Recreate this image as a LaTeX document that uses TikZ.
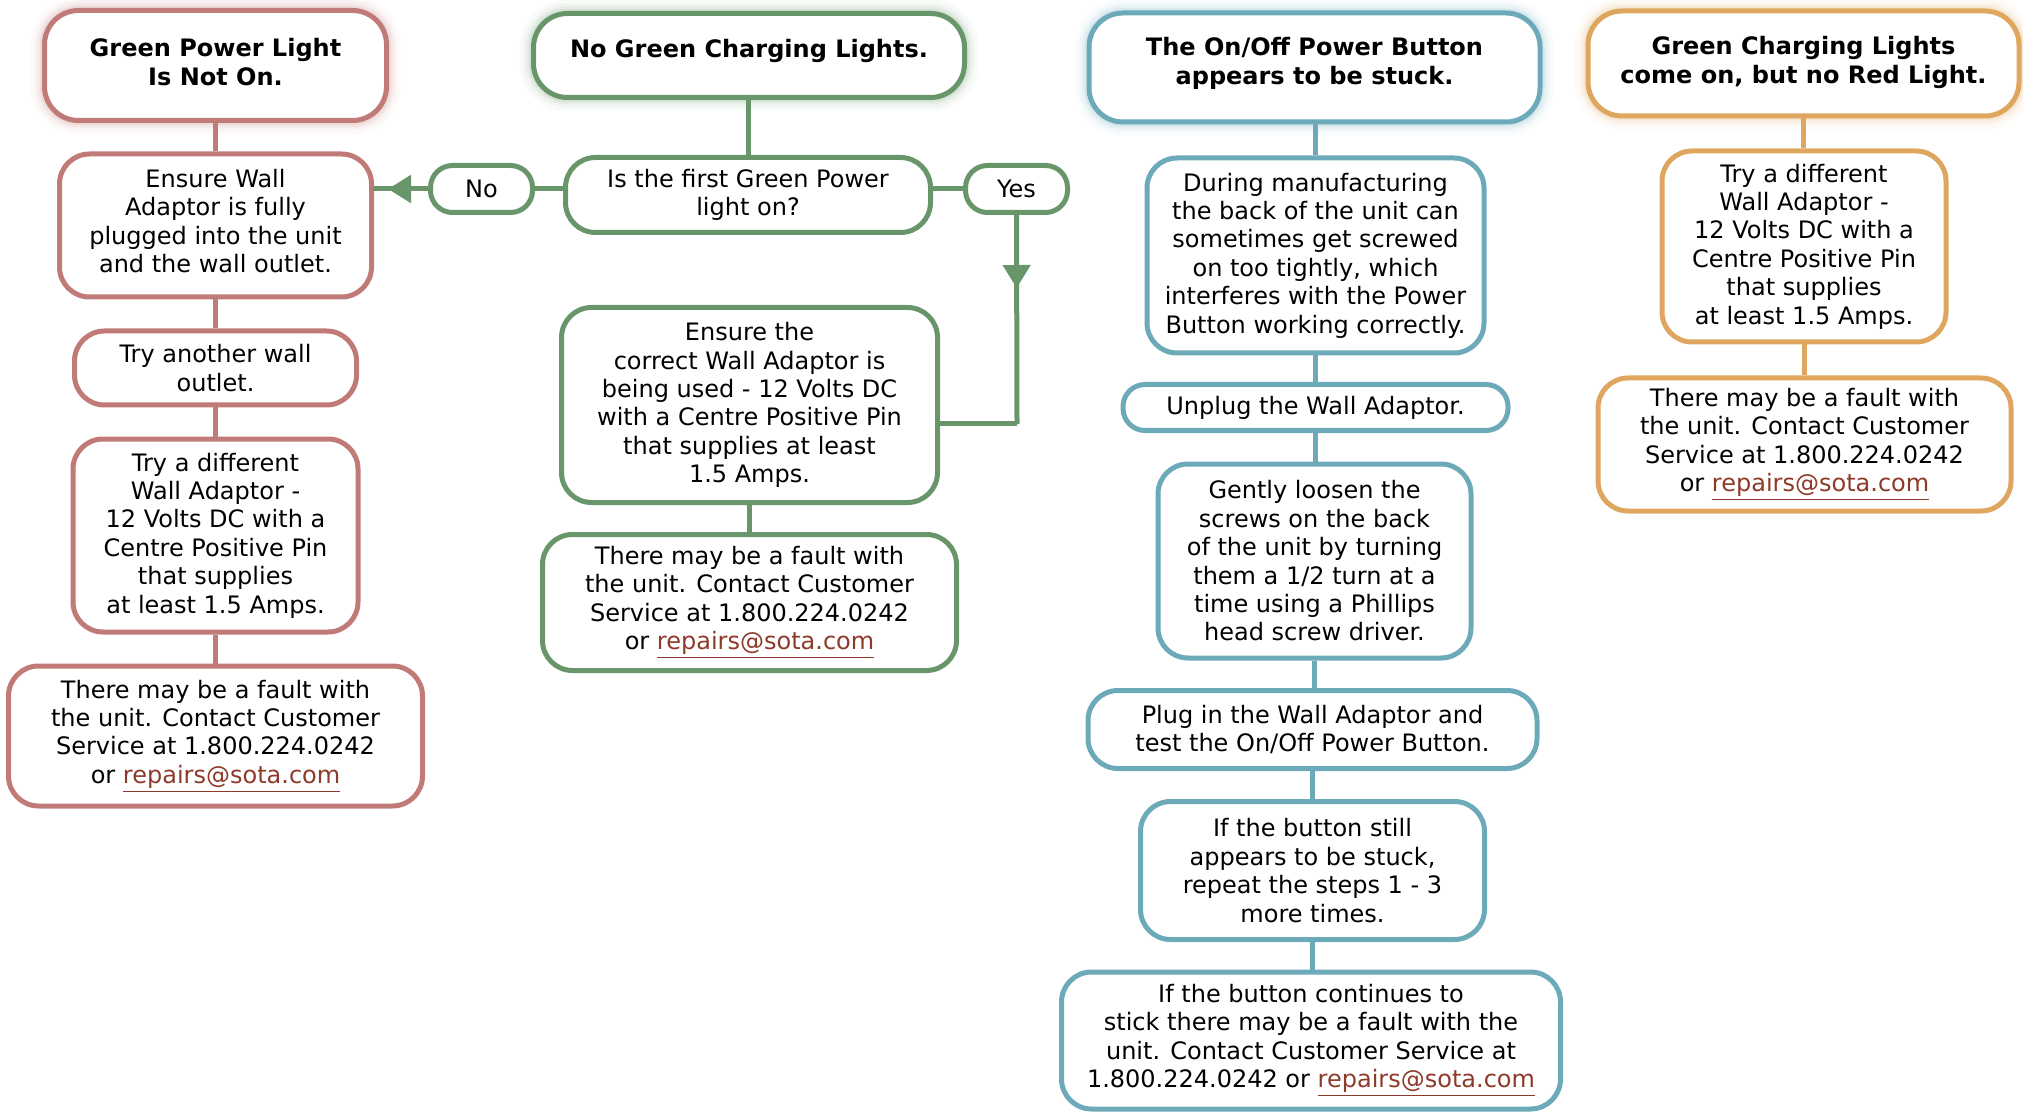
\documentclass[tikz,border=0pt]{standalone}
\usepackage{fontspec}
\setmainfont{DejaVu Sans}
\usetikzlibrary{arrows.meta,decorations.markings}
\definecolor{rd}{RGB}{192,122,120}
\definecolor{gr}{RGB}{104,150,106}
\definecolor{bl}{RGB}{108,170,186}
\definecolor{orng}{RGB}{222,166,94}
\definecolor{lnk}{RGB}{142,58,42}
\newcommand{\sotamail}{\textcolor{lnk}{\underline{repairs@sota.com}}}
\tikzset{
  sz/.style 2 args={minimum width=(#1-1)*0.5pt, minimum height=(#2-1)*0.5pt},
  box/.style={draw=#1, line width=2.5pt, rounded corners=15pt, fill=white, align=center,
    inner sep=0pt, font=\fontsize{12pt}{14.2pt}\selectfont},
  pill/.style={box=#1, rounded corners=11pt},
  hdr/.style={box=#1, rounded corners=17pt, font=\fontsize{12pt}{14.6pt}\selectfont\bfseries,
    preaction={draw=#1, draw opacity=0.04, line width=14pt},
    preaction={draw=#1, draw opacity=0.06, line width=10pt},
    preaction={draw=#1, draw opacity=0.09, line width=7pt},
    preaction={draw=#1, draw opacity=0.12, line width=4.5pt}},
  con/.style={draw=#1, line width=2.5pt},
  midarrow/.style n args={2}{con=#1, postaction={decorate}, decoration={markings,
    mark=at position #2 with {\arrow{Triangle[length=11.5pt,width=13.5pt,color=#1]}}}}
}
\begin{document}
\begin{tikzpicture}[x=0.5pt,y=-0.5pt]
\useasboundingbox (0,0) rectangle (2023,1112);
% ---- red column
\node[hdr=rd, sz={343}{111}, text depth=4pt] (h1) at (215.5,65.5) {Green Power Light\\Is Not On.};
\node[box=rd, sz={313}{144}, text depth=4.5pt] (r1) at (215.5,225.5) {Ensure Wall\\Adaptor is fully\\plugged into the unit\\and the wall outlet.};
\node[box=rd, sz={283}{75}] (r2) at (215.5,368) {Try another wall\\outlet.};
\node[box=rd, sz={286}{194}] (r3) at (215.5,535.5) {Try a different\\Wall Adaptor -\\12 Volts DC with a\\Centre Positive Pin\\that supplies\\at least 1.5 Amps.};
\node[box=rd, sz={415}{141}] (r4) at (215.5,736) {There may be a fault with\\the unit. Contact Customer\\Service at 1.800.224.0242\\or \sotamail};
% ---- green column
\node[hdr=gr, sz={432}{85}, text depth=7pt] (h2) at (749,55.5) {No Green Charging Lights.};
\node[box=gr, sz={366}{76}] (q) at (748,195) {Is the first Green Power\\light on?};
\node[pill=gr, sz={103}{48}] (nop) at (481.5,189) {No};
\node[pill=gr, sz={103}{48}] (yesp) at (1016.5,189) {Yes};
\node[box=gr, sz={377}{196}] (e1) at (749.5,405) {Ensure the\\correct Wall Adaptor is\\being used - 12 Volts DC\\with a Centre Positive Pin\\that supplies at least\\1.5 Amps.};
\node[box=gr, sz={415}{137}] (g2) at (749.5,602.5) {There may be a fault with\\the unit. Contact Customer\\Service at 1.800.224.0242\\or \sotamail};
\coordinate (yc) at (1017,424);
% ---- blue column
\node[hdr=bl, sz={452}{110}, text depth=7pt] (h3) at (1314.5,67.5) {The On/Off Power Button\\appears to be stuck.};
\node[box=bl, sz={338}{196}] (b1) at (1315.5,255.5) {During manufacturing\\the back of the unit can\\sometimes get screwed\\on too tightly, which\\interferes with the Power\\Button working correctly.};
\node[pill=bl, sz={386}{47}] (b2) at (1315.5,407.5) {Unplug the Wall Adaptor.};
\node[box=bl, sz={314}{195}] (b3) at (1314.5,561) {Gently loosen the\\screws on the back\\of the unit by turning\\them a 1/2 turn at a\\time using a Phillips\\head screw driver.};
\node[box=bl, sz={450}{79}] (b4) at (1312.5,729.5) {Plug in the Wall Adaptor and\\test the On/Off Power Button.};
\node[box=bl, sz={345}{139}] (b5) at (1312.5,870.5) {If the button still\\appears to be stuck,\\repeat the steps 1 - 3\\more times.};
\node[box=bl, sz={500}{138}] (b6) at (1311,1040.5) {If the button continues to\\stick there may be a fault with the\\unit. Contact Customer Service at\\1.800.224.0242 or \sotamail};
% ---- orange column
\node[hdr=orng, sz={432}{106}, text depth=4pt] (h4) at (1803.5,63.5) {Green Charging Lights\\come on, but no Red Light.};
\node[box=orng, sz={285}{192}] (o1) at (1804,246.5) {Try a different\\Wall Adaptor -\\12 Volts DC with a\\Centre Positive Pin\\that supplies\\at least 1.5 Amps.};
\node[box=orng, sz={414}{134}] (o2) at (1804.5,444.5) {There may be a fault with\\the unit. Contact Customer\\Service at 1.800.224.0242\\or \sotamail};
% ---- connectors
\draw[con=rd] (h1.south) -- (r1.north);
\draw[con=rd] (r1.south) -- (r2.north);
\draw[con=rd] (r2.south) -- (r3.north);
\draw[con=rd] (r3.south) -- (r4.north);
\draw[con=gr] (h2.south -| q.north) -- (q.north);
\draw[con=gr] (q.west |- nop.east) -- (nop.east);
\draw[midarrow={gr}{20pt}] (nop.west) -- (r1.east |- nop.west);
\draw[con=gr] (q.east |- yesp.west) -- (yesp.west);
\draw[midarrow={gr}{36.5pt}] (yesp.south) -- (yc);
\draw[con=gr, line join=miter] (yesp.south |- yc) -- (yc) -- (e1.east |- yc);
\draw[con=gr] (e1.south) -- (e1.south |- g2.north);
\draw[con=bl] (h3.south -| b1.north) -- (b1.north);
\draw[con=bl] (b1.south) -- (b1.south |- b2.north);
\draw[con=bl] (b2.south) -- (b2.south |- b3.north);
\draw[con=bl] (b3.south) -- (b3.south |- b4.north);
\draw[con=bl] (b4.south) -- (b4.south |- b5.north);
\draw[con=bl] (b5.south) -- (b5.south |- b6.north);
\draw[con=orng] (h4.south) -- (h4.south |- o1.north);
\draw[con=orng] (o1.south) -- (o1.south |- o2.north);
\end{tikzpicture}
\end{document}
